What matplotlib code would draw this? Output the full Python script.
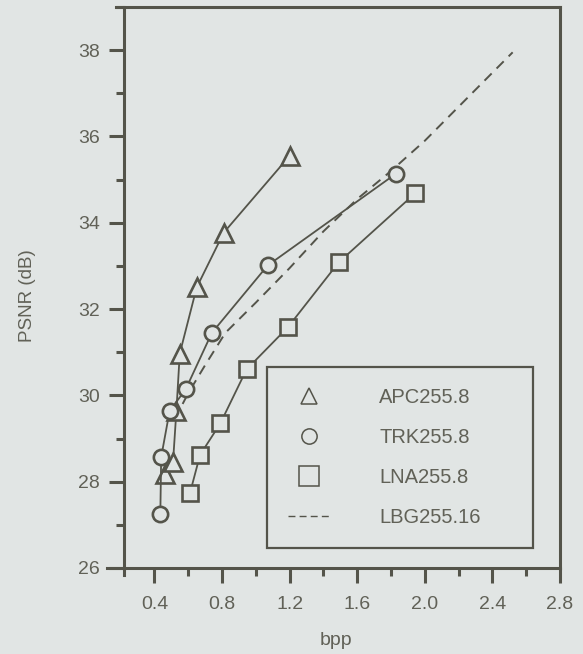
import matplotlib
matplotlib.use("Agg")
import matplotlib.pyplot as plt
from matplotlib.ticker import MultipleLocator, FixedLocator
from matplotlib.lines import Line2D

plt.rcParams['font.family'] = ['Liberation Sans', 'DejaVu Sans']

# ---- data ----
apc_bpp = [0.46, 0.51, 0.53, 0.55, 0.65, 0.81, 1.20]
apc_psnr = [28.17, 28.45, 29.64, 30.97, 32.50, 33.77, 35.55]

trk_bpp = [0.435, 0.44, 0.49, 0.585, 0.74, 1.07, 1.83]
trk_psnr = [27.26, 28.57, 29.64, 30.14, 31.45, 33.01, 35.14]

lna_bpp = [0.61, 0.67, 0.79, 0.945, 1.19, 1.49, 1.945]
lna_psnr = [27.73, 28.62, 29.35, 30.60, 31.58, 33.08, 34.69]

lbg_bpp = [0.52, 0.60, 0.70, 0.82, 1.00, 1.20, 1.40, 1.60, 1.80, 2.00, 2.52]
lbg_psnr = [29.45, 30.05, 30.70, 31.45, 32.15, 32.95, 33.80, 34.55, 35.20, 35.90, 37.95]

labels = ["APC255.8", "TRK255.8", "LNA255.8", "LBG255.16"]
x_ticks = [0.4, 0.8, 1.2, 1.6, 2.0, 2.4, 2.8]
y_ticks = [26, 28, 30, 32, 34, 36, 38]

# ---- style ----
BG = "#e1e5e4"
INK = "#54544a"
TXT = "#616157"

fig = plt.figure(figsize=(5.83, 6.54), dpi=100, facecolor=BG)
ax = fig.add_axes([0.2127, 0.1315, 0.9605 - 0.2127, 0.9893 - 0.1315])
ax.set_facecolor(BG)

line_kw = dict(color=INK, lw=1.3, mfc=BG, mec=INK, mew=1.9)
ax.plot(lbg_bpp, lbg_psnr, color=INK, lw=1.4, ls=(0, (5.2, 3.6)), zorder=2)
ax.plot(lna_bpp, lna_psnr, marker='s', ms=11, zorder=3, **line_kw)
ax.plot(apc_bpp, apc_psnr, marker='^', ms=13, zorder=3, **line_kw)
ax.plot(trk_bpp, trk_psnr, marker='o', ms=11, zorder=4, **line_kw)

ax.set_xlim(0.22, 2.8)
ax.set_ylim(26, 39)

ax.xaxis.set_major_locator(FixedLocator(x_ticks))
ax.xaxis.set_minor_locator(MultipleLocator(0.2))
ax.yaxis.set_major_locator(FixedLocator(y_ticks))
ax.yaxis.set_minor_locator(MultipleLocator(1))
ax.set_xticklabels([f"{v:.1f}" for v in x_ticks])
ax.set_yticklabels([str(v) for v in y_ticks])

ax.tick_params(which='major', direction='out', length=10.5, width=2.2,
               color=INK, labelcolor=TXT, labelsize=14)
ax.tick_params(which='minor', direction='out', length=5.5, width=2.2, color=INK)
ax.tick_params(axis='x', which='both', top=False, pad=10)
ax.tick_params(axis='y', which='both', right=False, pad=7)

for side in ['left', 'bottom', 'top', 'right']:
    ax.spines[side].set_color(INK)
    ax.spines[side].set_linewidth(2.2)
ax.spines['left'].set_bounds(25.84, 39)
ax.spines['bottom'].set_bounds(0.12, 2.8)
ax.spines['top'].set_bounds(0.17, 2.8)

ax.set_xlabel("bpp", fontsize=14, color=TXT, va='center')
ax.xaxis.set_label_coords(0.486, -0.13)
ax.set_ylabel("PSNR (dB)", fontsize=13.5, color=TXT, va='center')
ax.yaxis.set_label_coords(-0.222, 0.485)

handles = [
    Line2D([], [], ls='none', marker='^', ms=11, mfc='none', mec=INK, mew=1.1),
    Line2D([], [], ls='none', marker='o', ms=11, mfc='none', mec=INK, mew=1.1),
    Line2D([], [], ls='none', marker='s', ms=14, mfc='none', mec=INK, mew=1.1),
    Line2D([], [], color=INK, lw=1.0, ls=(0, (5, 3))),
]
leg = ax.legend(handles, labels, loc='lower left',
                bbox_to_anchor=(0.327, 0.035, 0.612, 0.333), mode='expand',
                fontsize=14.5, frameon=True, fancybox=False, framealpha=1,
                facecolor=BG, edgecolor=INK, borderpad=1.05, labelspacing=1.05,
                handlelength=2.15, handletextpad=2.4, borderaxespad=0)
leg.get_frame().set_linewidth(1.6)
for t in leg.get_texts():
    t.set_color(TXT)

fig.savefig("out.png", dpi=100, facecolor=BG)
